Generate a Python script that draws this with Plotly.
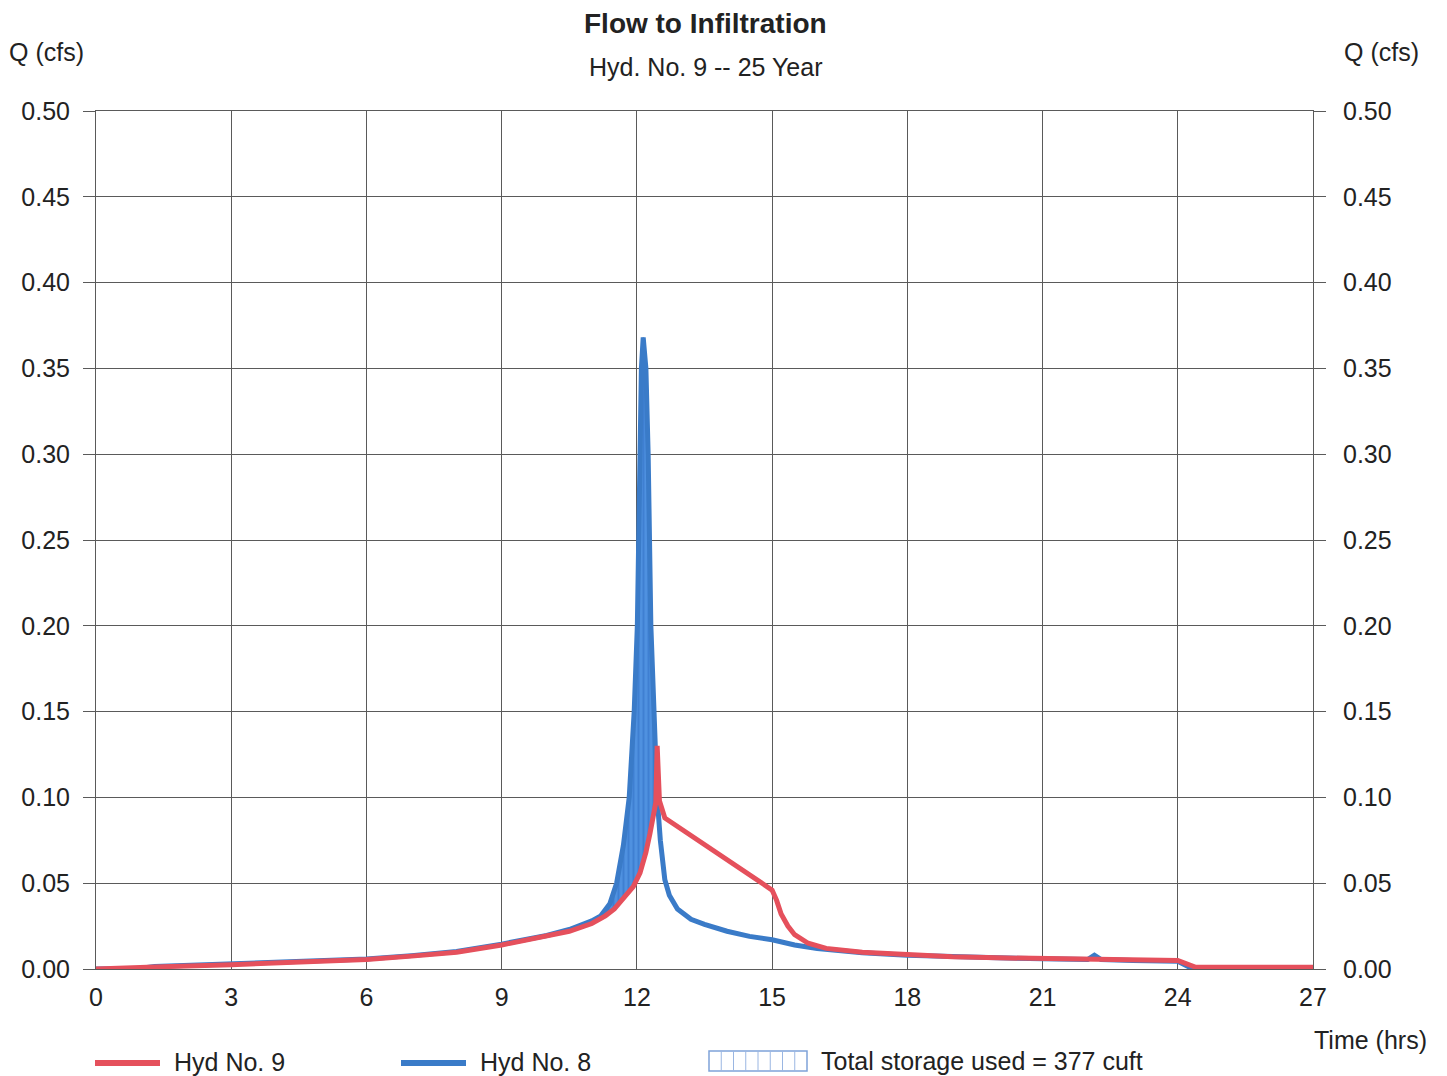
import plotly.graph_objects as go

# ---------------- data ----------------
x_ticks = [0, 3, 6, 9, 12, 15, 18, 21, 24, 27]
y_ticks = [0.00, 0.05, 0.10, 0.15, 0.20, 0.25, 0.30, 0.35, 0.40, 0.45, 0.50]

# Hyd No. 8 (inflow, blue)
hyd8_t = [0, 1.0, 1.3, 3, 4.5, 6, 7, 8, 9, 10, 10.5, 11.0, 11.2, 11.4,
          11.55, 11.7, 11.83, 11.94, 12.01, 12.04, 12.07, 12.10, 12.14,
          12.20, 12.25, 12.28, 12.31, 12.38, 12.45, 12.52, 12.62, 12.72,
          12.9, 13.2, 13.5, 14.0, 14.5, 15.0, 15.5, 16.0, 17.0, 18.0, 19.0,
          20.0, 21.0, 22.0, 22.15, 22.3, 23.0, 24.0, 24.3, 24.5, 27]
hyd8_q = [0, 0.0005, 0.0015, 0.0028, 0.004, 0.0058, 0.0078, 0.0102, 0.0145,
          0.0195, 0.023, 0.028, 0.031, 0.038,
          0.050, 0.072, 0.100, 0.150, 0.200, 0.250, 0.300, 0.350, 0.368,
          0.350, 0.300, 0.250, 0.200, 0.150, 0.100, 0.075, 0.052, 0.043,
          0.035, 0.029, 0.026, 0.022, 0.019, 0.017, 0.014, 0.012, 0.0095, 0.008, 0.007,
          0.0065, 0.006, 0.0055, 0.008, 0.0055, 0.005, 0.0045, 0.0005, 0, 0]

# Hyd No. 9 (outflow to infiltration, red)
hyd9_t = [0, 1.0, 1.3, 3, 4.5, 6, 7, 8, 9, 10, 10.5, 11.0, 11.3, 11.5, 11.74,
          11.92, 12.07, 12.2, 12.29, 12.36, 12.42, 12.45, 12.5, 12.62, 15.0,
          15.1, 15.2, 15.35, 15.5, 15.8, 16.2, 17, 18, 19, 20, 21, 22, 23, 24,
          24.4, 27]
hyd9_q = [0, 0.0005, 0.0012, 0.0025, 0.0038, 0.0055, 0.0075, 0.0098, 0.014,
          0.019, 0.022, 0.0265, 0.031, 0.035, 0.042,
          0.048, 0.056, 0.068, 0.079, 0.087, 0.097, 0.130, 0.098, 0.088, 0.046,
          0.040, 0.032, 0.025, 0.020, 0.015, 0.012, 0.0098, 0.0082, 0.0072, 0.0065,
          0.006, 0.0056, 0.0053, 0.005, 0.001, 0.001]

storage_start, storage_end = 11.0, 12.45
legend_labels = ["Hyd No. 9", "Hyd No. 8", "Total storage used = 377 cuft"]

RED = "#E5505C"
BLUE = "#3A7BC8"
TXT = "#222222"
FONT = "Liberation Sans, Arial, sans-serif"

# storage polygon between the two hydrographs (built from the data)
up = [(t, q) for t, q in zip(hyd8_t, hyd8_q) if storage_start <= t <= storage_end]
lo = [(t, q) for t, q in zip(hyd9_t, hyd9_q) if storage_start <= t < storage_end]
poly = up + lo[::-1]
poly_x = [p[0] for p in poly]
poly_y = [p[1] for p in poly]

fig = go.Figure()

fig.add_trace(go.Scatter(
    x=poly_x, y=poly_y, mode="lines", fill="toself",
    line=dict(color=BLUE, width=1),
    fillcolor="#4a8ade",
    fillpattern=dict(shape="|", fgcolor="#2f6ec4", bgcolor="#4f91e0", size=5, solidity=0.4),
    name=legend_labels[2], hoverinfo="skip"))

fig.add_trace(go.Scatter(
    x=hyd8_t, y=hyd8_q, mode="lines", line=dict(color=BLUE, width=5),
    name=legend_labels[1]))

fig.add_trace(go.Scatter(
    x=hyd9_t, y=hyd9_q, mode="lines", line=dict(color=RED, width=5),
    name=legend_labels[0]))

# invisible trace to anchor the right axis
fig.add_trace(go.Scatter(
    x=hyd9_t, y=hyd9_q, yaxis="y2", mode="lines",
    line=dict(color="rgba(0,0,0,0)", width=0), showlegend=False, hoverinfo="skip"))

# ---------- layout helpers (page body has an 8px offset) ----------
OFF = 8
PL, PR, PT, PB = 96, 1313, 111, 969          # plot area in screen pixels
W, H = 1447 - OFF, 1076 - OFF


def px(x):
    return (x - PL) / (PR - PL)


def py(y):
    return (PB - y) / (PB - PT)


grid = "#5a5a5a"
fs = 25

annotations = [
    dict(text="<b>Flow to Infiltration</b>", x=px(705), y=py(24)),
    dict(text="Hyd. No. 9 -- 25 Year", x=px(705), y=py(67)),
    dict(text="Q (cfs)", x=px(46), y=py(52)),
    dict(text="Q (cfs)", x=px(1381), y=py(52)),
    dict(text="Time (hrs)", x=px(1370), y=py(1040)),
    dict(text=legend_labels[0], x=px(172), y=py(1062), xanchor="left"),
    dict(text=legend_labels[1], x=px(478), y=py(1062), xanchor="left"),
    dict(text=legend_labels[2], x=px(819), y=py(1061), xanchor="left"),
]
for a in annotations:
    a.update(xref="paper", yref="paper", showarrow=False, yanchor="middle")
    a.setdefault("xanchor", "center")
    a["font"] = dict(family=FONT, size=28 if "Flow" in a["text"] else fs, color=TXT)

shapes = [
    dict(type="line", x0=px(95), x1=px(160), y0=py(1063), y1=py(1063),
         line=dict(color=RED, width=6)),
    dict(type="line", x0=px(401), x1=px(466), y0=py(1063), y1=py(1063),
         line=dict(color=BLUE, width=6)),
    dict(type="rect", x0=px(709), x1=px(807), y0=py(1071), y1=py(1051),
         line=dict(color="#7fa3d9", width=1.5), fillcolor="white"),
]
for i in range(1, 8):
    xx = 709 + i * (807 - 709) / 8
    shapes.append(dict(type="line", x0=px(xx), x1=px(xx), y0=py(1071), y1=py(1051),
                       line=dict(color="#9ab6e2", width=1)))
for s in shapes:
    s.update(xref="paper", yref="paper")

fig.update_layout(
    width=W, height=H,
    margin=dict(l=PL - OFF, r=1447 - PR, t=PT - OFF, b=1076 - PB, autoexpand=False),
    paper_bgcolor="white", plot_bgcolor="white",
    font=dict(family=FONT, size=fs, color=TXT),
    showlegend=False,
    xaxis=dict(range=[0, 27], tickvals=x_ticks, ticktext=[str(v) for v in x_ticks],
               showgrid=True, gridcolor=grid, gridwidth=1,
               showline=True, linecolor=grid, linewidth=1, mirror=True,
               ticks="", ticklabelstandoff=6, zeroline=False, automargin=False,
               tickfont=dict(family=FONT, size=fs, color=TXT)),
    yaxis=dict(range=[0, 0.5], tickvals=y_ticks, ticktext=[f"{v:.2f}" for v in y_ticks],
               showgrid=True, gridcolor=grid, gridwidth=1,
               showline=True, linecolor=grid, linewidth=1, mirror=True,
               ticks="outside", ticklen=12, tickcolor=grid, zeroline=False,
               ticklabelstandoff=8, automargin=False,
               tickfont=dict(family=FONT, size=fs, color=TXT)),
    yaxis2=dict(range=[0, 0.5], tickvals=y_ticks, ticktext=[f"{v:.2f}" for v in y_ticks],
                overlaying="y", side="right", showgrid=False,
                ticks="outside", ticklen=12, tickcolor=grid, zeroline=False,
                ticklabelstandoff=12, automargin=False,
                tickfont=dict(family=FONT, size=fs, color=TXT)),
    annotations=annotations,
    shapes=shapes,
)

fig.write_html("out.html")
